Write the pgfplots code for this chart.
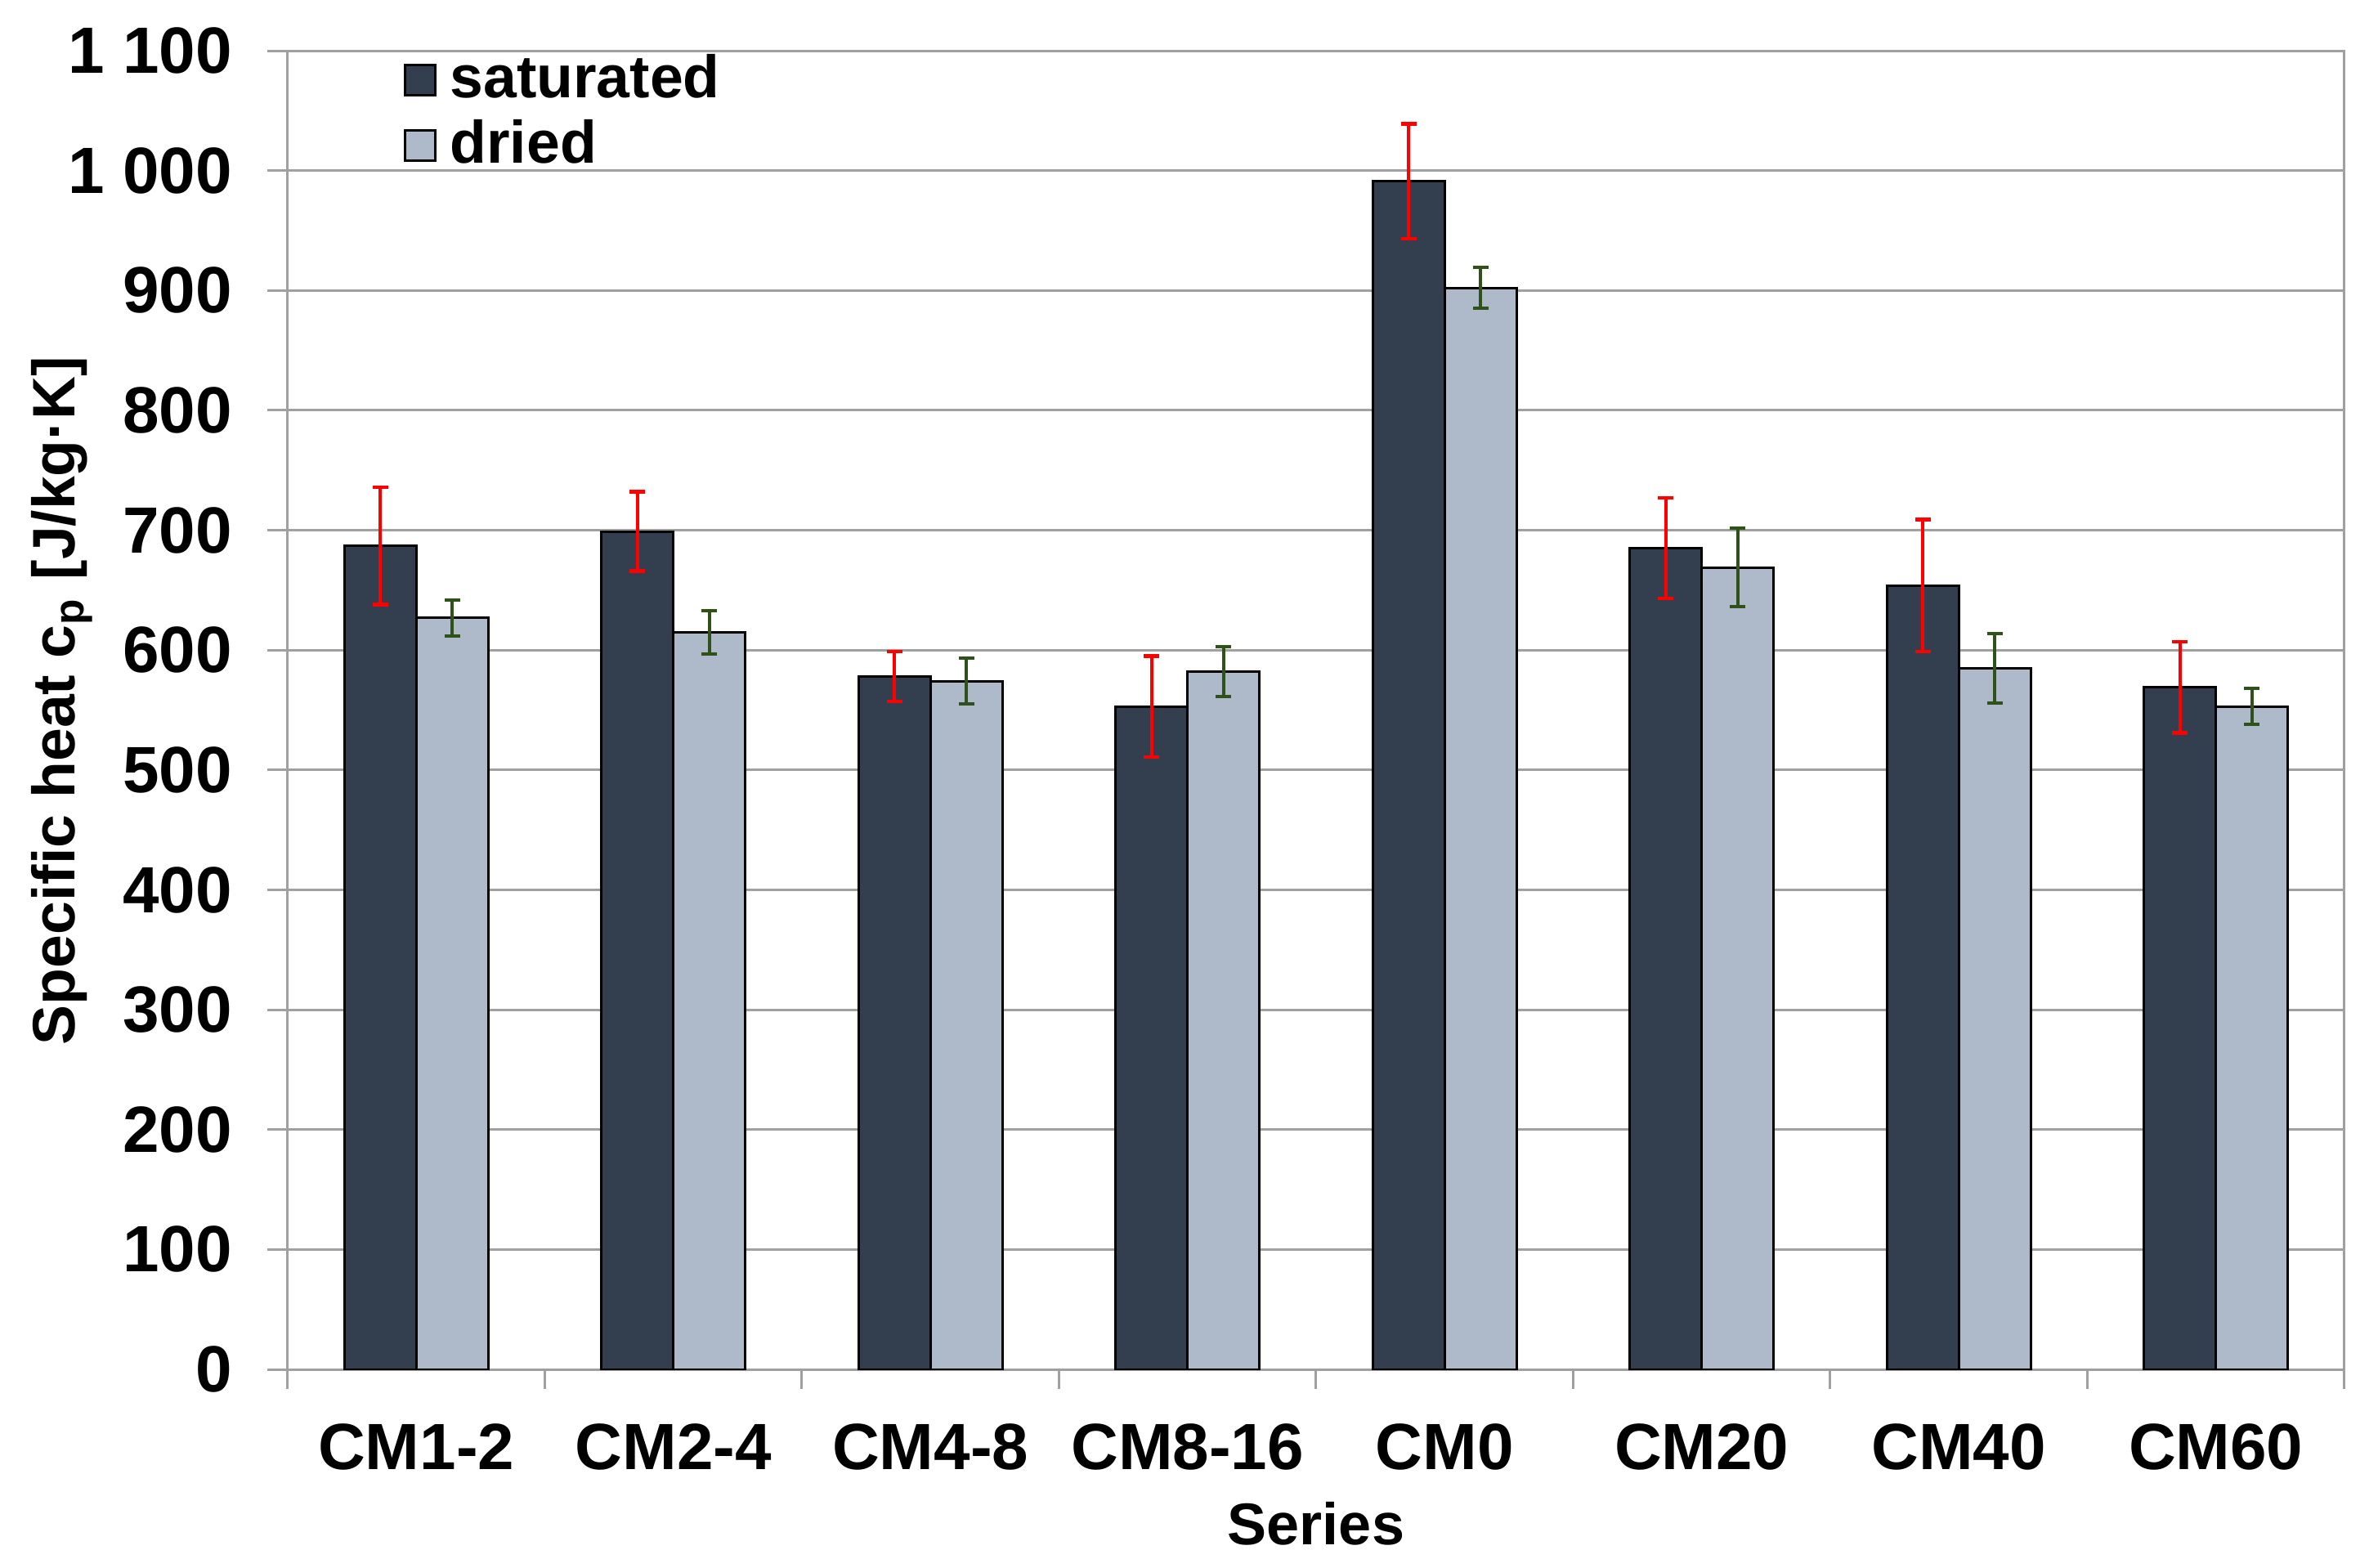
\documentclass[border=0pt]{standalone}
\usepackage{fontspec}
\setmainfont{Liberation Sans}
\usepackage{pgfplots}
\pgfplotsset{compat=1.18}
\usepackage{pgfplotstable}

\definecolor{satcol}{RGB}{51,62,79}
\definecolor{drycol}{RGB}{174,185,202}
\definecolor{errgreen}{RGB}{47,82,27}
\definecolor{gridgray}{RGB}{160,160,160}

% x: category index, values in J/(kg K), errors are half-ranges
\pgfplotstableread{
x sat saterr dry dryerr
0 687 49 627 15
1 699 33 615 18
2 578 21 574 19
3 553 42 582 21
4 991 48 902 17
5 685 42 669 33
6 654 55 585 29
7 569 38 553 15
}\cpdata

\begin{document}
\begin{tikzpicture}
\useasboundingbox (-52.8pt,-36.3pt) rectangle (383.55pt,251.25pt);
\begin{axis}[
    scale only axis,
    width=377.4pt, height=241.95pt,
    xmin=-0.5, xmax=7.5,
    ymin=0, ymax=1100,
    ybar, bar width=0.28,
    ytick={0,100,...,1100},
    xtick={0,...,7},
    xticklabels={CM1-2,CM2-4,CM4-8,CM8-16,CM0,CM20,CM40,CM60},
    minor xtick={-0.5,0.5,...,7.5},
    major x tick style={draw=none},
    tick pos=left, tick align=outside,
    major tick length=3.75pt, minor tick length=3.6pt,
    every tick/.style={draw=gridgray, line width=0.45pt},
    ymajorgrids,
    grid style={draw=gridgray, line width=0.45pt},
    axis line style={draw=gridgray, line width=0.45pt},
    /pgf/number format/assume math mode=true,
    /pgf/number format/1000 sep={\ },
    yticklabel style={font=\bfseries\fontsize{12}{14}\selectfont, anchor=east, inner sep=0pt, xshift=-6.25pt},
    xticklabel style={font=\bfseries\fontsize{12}{14}\selectfont, anchor=north, inner sep=0pt, yshift=-6pt},
    xlabel={Series},
    xlabel style={font=\bfseries\fontsize{10.8}{13}\selectfont, at={(axis description cs:0.5,-0.0996)}, anchor=north, inner sep=0pt},
    ylabel={Specific heat c\textsubscript{p} [J/kg·K]},
    ylabel style={font=\bfseries\fontsize{11}{13}\selectfont, at={(axis description cs:-0.1252,0.507)}, anchor=north, inner sep=0pt},
    legend style={at={(axis description cs:0.056,0.998)}, anchor=north west,
        draw=none, fill=none, inner sep=0pt, row sep=2.5pt, column sep=2.5pt,
        font=\bfseries\fontsize{11}{13}\selectfont,
        nodes={inner sep=0pt}},
    legend cell align=left,
]
\addplot[fill=satcol, draw=black, line width=0.45pt, bar shift=-0.14,
    legend image code/.code={\draw[fill=satcol, draw=black, line width=0.45pt] (0pt,-2.75pt) rectangle (5.5pt,2.75pt);},
    error bars/.cd, y dir=both, y explicit,
    error bar style={draw=red, line width=0.65pt},
    error mark options={rotate=90, draw=red, mark size=1.45pt, line width=0.65pt}]
    table[x=x, y=sat, y error=saterr] {\cpdata};
\addplot[fill=drycol, draw=black, line width=0.45pt, bar shift=0.14,
    legend image code/.code={\draw[fill=drycol, draw=black, line width=0.45pt] (0pt,-2.75pt) rectangle (5.5pt,2.75pt);},
    error bars/.cd, y dir=both, y explicit,
    error bar style={draw=errgreen, line width=0.6pt},
    error mark options={rotate=90, draw=errgreen, mark size=1.45pt, line width=0.6pt}]
    table[x=x, y=dry, y error=dryerr] {\cpdata};
\legend{saturated, dried}
\end{axis}
\end{tikzpicture}
\end{document}
